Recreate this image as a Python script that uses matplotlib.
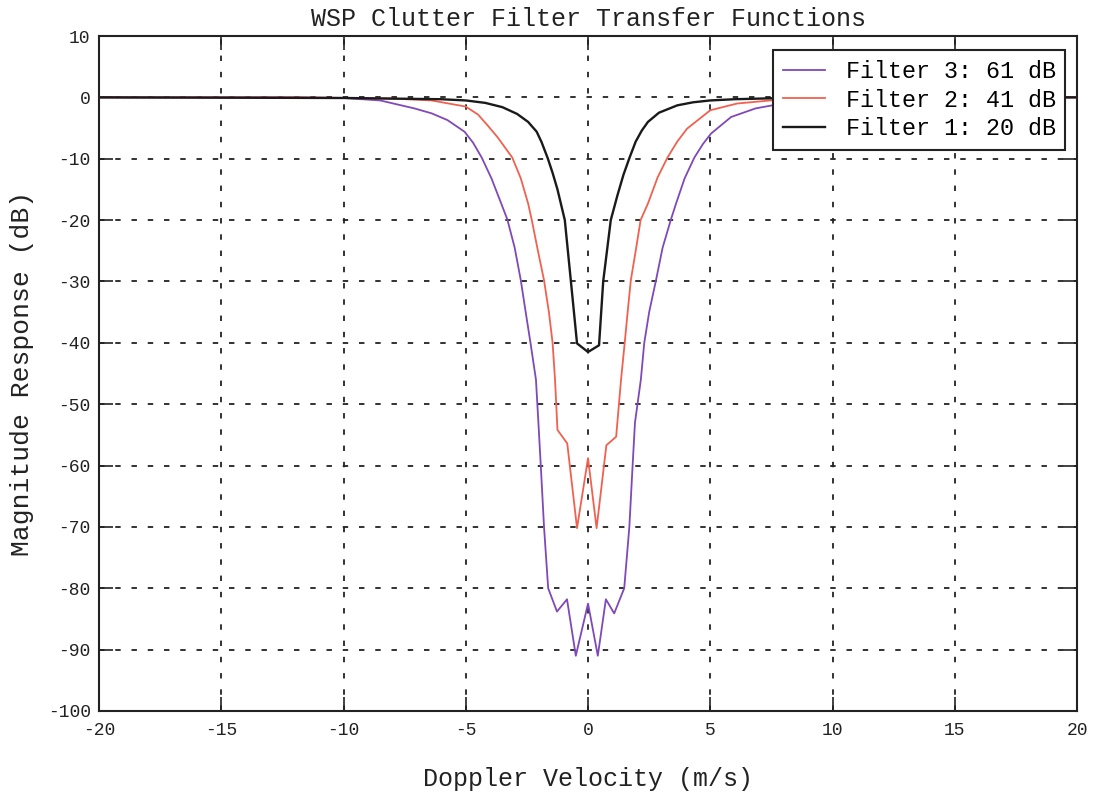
import matplotlib
matplotlib.use("Agg")
import matplotlib.pyplot as plt

# Doppler velocity (m/s) and magnitude response (dB) for each clutter filter
f1_vel = [-20, -10, -8, -6, -5.0, -4.2, -3.5, -2.9, -2.45, -2.1, -1.9, -1.65, -1.45,
          -1.25, -0.95, -0.7, -0.45, 0.0, 0.45, 0.62, 0.93, 1.2, 1.45, 1.7, 1.95,
          2.2, 2.45, 2.9, 3.65, 4.3, 5.0, 6.0, 8.0, 10, 20]
f1_db = [0.0, -0.1, -0.2, -0.3, -0.5, -0.9, -1.6, -2.7, -4.0, -5.6, -7.3, -9.9, -12.3,
         -15.0, -20.0, -30.0, -40.1, -41.5, -40.4, -30.0, -20.0, -16.0, -12.6, -9.8, -7.2,
         -5.4, -4.0, -2.5, -1.3, -0.8, -0.5, -0.3, -0.1, 0.0, 0.0]

f2_vel = [-20, -12, -10, -8, -6.4, -5.0, -4.5, -4.1, -3.7, -3.1, -2.75, -2.45, -2.3,
          -2.05, -1.8, -1.6, -1.45, -1.35, -1.25, -0.85, -0.45, 0.0, 0.35, 0.75, 1.15,
          1.35, 1.5, 1.62, 1.75, 1.95, 2.15, 2.45, 2.85, 3.25, 3.65, 4.05, 5.0, 6.1,
          8.0, 10, 20]
f2_db = [0.0, 0.0, -0.1, -0.2, -0.5, -1.5, -2.8, -4.6, -6.5, -9.8, -13.2, -17.3, -20.0,
         -25.0, -29.8, -35.0, -40.0, -46.0, -54.2, -56.4, -70.2, -58.8, -70.2, -56.7, -55.3,
         -46.0, -40.0, -35.0, -29.8, -25.0, -20.0, -17.3, -13.0, -9.8, -7.2, -5.1, -2.1, -1.0,
         -0.3, 0.0, 0.0]

f3_vel = [-20, -12, -10, -8.5, -7.1, -6.4, -5.75, -5.05, -4.7, -4.35, -3.95, -3.55, -3.3,
          -3.0, -2.75, -2.55, -2.35, -2.13, -2.03, -1.93, -1.8, -1.63, -1.27, -0.86, -0.5,
          0.0, 0.4, 0.73, 1.07, 1.48, 1.69, 1.82, 1.92, 2.16, 2.3, 2.5, 2.78, 3.05, 3.39,
          3.6, 3.95, 4.35, 4.7, 5.03, 5.85, 6.85, 8.5, 10, 20]
f3_db = [0.0, 0.0, -0.1, -0.5, -1.8, -2.6, -3.7, -5.6, -7.4, -9.8, -13.2, -17.3, -19.9,
         -24.5, -29.8, -35.0, -40.1, -46.0, -53.0, -60.2, -70.0, -80.0, -83.8, -81.8, -91.0,
         -82.5, -91.0, -81.8, -84.1, -80.0, -70.0, -60.2, -53.0, -46.0, -40.0, -35.0, -29.8, -24.5, -19.9,
         -17.3, -13.2, -9.8, -7.6, -5.9, -3.2, -1.8, -0.6, -0.2, 0.0]

series_labels = ["Filter 3: 61 dB", "Filter 2: 41 dB", "Filter 1: 20 dB"]
x_ticks = [-20, -15, -10, -5, 0, 5, 10, 15, 20]
y_ticks = [10, 0, -10, -20, -30, -40, -50, -60, -70, -80, -90, -100]

mono = "Liberation Mono"
plt.rcParams["font.family"] = [mono, "DejaVu Sans Mono"]
plt.rcParams["axes.unicode_minus"] = False

fig = plt.figure(figsize=(10.93, 7.95), dpi=100)
ax = fig.add_axes([0.0906, 0.1057, 0.8948, 0.849])

ax.plot(f3_vel, f3_db, color="#8048b8", lw=1.3, label=series_labels[0], zorder=3)
ax.plot(f2_vel, f2_db, color="#f2604f", lw=1.3, label=series_labels[1], zorder=4)
ax.plot(f1_vel, f1_db, color="#1a1a1a", lw=1.7, label=series_labels[2], zorder=5)

ax.set_xlim(-20, 20)
ax.set_ylim(-100, 10)
ax.set_xticks(x_ticks)
ax.set_yticks(y_ticks)
ax.tick_params(direction="in", length=10, width=1.2, top=True, right=True,
               labelsize=13, colors="#222222")
ax.tick_params(axis="x", pad=8)
ax.tick_params(axis="y", pad=6)

ax.grid(True, color="#222222", linestyle=(0, (3, 6)), linewidth=1.3)
for s in ax.spines.values():
    s.set_linewidth(1.5)
    s.set_color("#222222")

ax.set_title("WSP Clutter Filter Transfer Functions", fontsize=18, pad=7, color="#222222")
ax.set_xlabel("Doppler Velocity (m/s)", fontsize=18, labelpad=20, color="#222222")
ax.set_ylabel("Magnitude Response (dB)", fontsize=19, labelpad=10, color="#222222")

leg = ax.legend(loc="upper right", bbox_to_anchor=(0.988, 0.979), borderaxespad=0.0,
                fontsize=16.8, frameon=True, fancybox=False,
                edgecolor="#222222", framealpha=1, handlelength=1.8,
                labelspacing=0.24, borderpad=0.42, handletextpad=0.9)
leg.get_frame().set_linewidth(1.5)

fig.savefig("out.png", dpi=100, facecolor="white")
